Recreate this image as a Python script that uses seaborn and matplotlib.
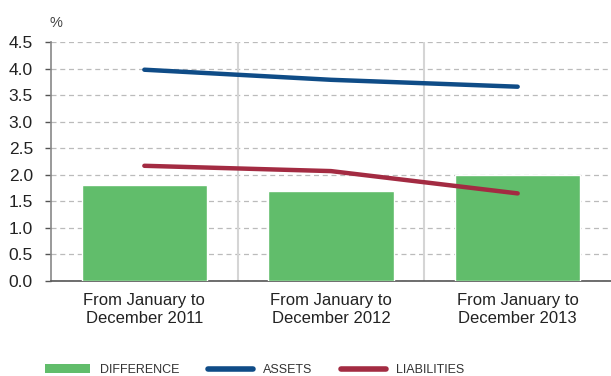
import pandas as pd
import seaborn as sns
import matplotlib.pyplot as plt
from matplotlib.lines import Line2D
from matplotlib.patches import Patch

# dados
periodos = ['From January to\nDecember 2011', 'From January to\nDecember 2012', 'From January to\nDecember 2013']
difference = [1.80, 1.70, 2.00]
assets = [3.98, 3.79, 3.66]
liabilities = [2.17, 2.07, 1.65]

df = pd.DataFrame({'periodo': periodos, 'difference': difference,
                   'assets': assets, 'liabilities': liabilities})

sns.set_style('white')
plt.rcParams['font.family'] = ['Liberation Sans', 'DejaVu Sans']

verde = '#61BD6B'
azul = '#0F4C87'
vermelho = '#A32B42'

fig = plt.figure(figsize=(6.11, 3.76), dpi=100)
ax = fig.add_axes([0.0835, 0.2527, 0.9165, 0.6353])

sns.barplot(data=df, x='periodo', y='difference', color=verde, width=0.67,
            saturation=1, ax=ax, zorder=3)
sns.lineplot(x=range(len(periodos)), y=assets, color=azul, linewidth=3.2, ax=ax, zorder=4)
sns.lineplot(x=range(len(periodos)), y=liabilities, color=vermelho, linewidth=3.2, ax=ax, zorder=4)

ax.set_xlim(-0.5, 2.5)
ax.set_ylim(0, 4.5)
ax.set_yticks([i * 0.5 for i in range(10)])
ax.set_yticklabels([f'{i * 0.5:.1f}' for i in range(10)], fontsize=12.5, color='#222222')
ax.set_xticks(range(len(periodos)))
ax.set_xticklabels(periodos, fontsize=12, color='#222222')
ax.set_xlabel('')
ax.set_ylabel('')

# grade e separadores
ax.grid(True, axis='y', linestyle=(0, (4, 3)), color='#bbbbbb', linewidth=0.9, zorder=0)
for xs in [0.5, 1.5]:
    ax.axvline(xs, color='#d5d5d5', linewidth=1.5, zorder=1)

for s in ['top', 'right']:
    ax.spines[s].set_visible(False)
ax.spines['left'].set_color('#888888')
ax.spines['left'].set_linewidth(1.2)
ax.spines['bottom'].set_color('#555555')
ax.spines['bottom'].set_linewidth(1.2)
ax.tick_params(axis='y', length=4, width=1, color='#555555', pad=9, left=True)
ax.tick_params(axis='x', length=0, pad=9)

ax.text(-0.003, 1.065, '%', transform=ax.transAxes, fontsize=10.5, color='#444444', ha='left')

# legenda
handles = [Patch(facecolor=verde, edgecolor='none'),
           Line2D([0], [0], color=azul, linewidth=4),
           Line2D([0], [0], color=vermelho, linewidth=4)]
fig.legend(handles, ['DIFFERENCE', 'ASSETS', 'LIABILITIES'], loc='lower left',
           bbox_to_anchor=(0.055, -0.03), ncol=3, frameon=False, fontsize=9,
           handlelength=3.6, handleheight=0.75, handletextpad=0.8, columnspacing=2.3,
           labelcolor='#333333')

plt.savefig('out.png', dpi=100)
